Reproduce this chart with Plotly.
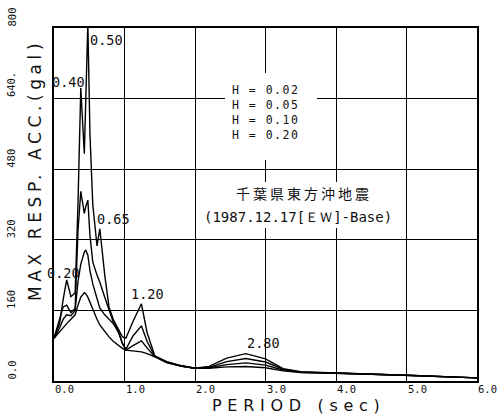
import plotly.graph_objects as go

# ---------------- data ----------------
period = [0.00, 0.08, 0.13, 0.18, 0.24, 0.30, 0.34, 0.38, 0.43, 0.45, 0.48, 0.51,
          0.55, 0.61, 0.65, 0.72, 0.78, 0.84, 0.88, 0.92, 0.97, 1.02, 1.12, 1.24,
          1.32, 1.43, 1.60, 1.80, 2.00, 2.20, 2.45, 2.72, 3.00, 3.25, 3.50, 4.00,
          5.00, 6.00]

acc_h002 = [97, 131, 185, 229, 191, 200, 400, 664, 515, 630, 810, 560,
            400, 306, 345, 240, 168, 140, 128, 118, 100, 97, 135, 175,
            110, 57, 44, 35, 29, 33, 52, 62, 50, 28, 21, 18,
            13, 7]
acc_h005 = [97, 140, 168, 172, 155, 165, 340, 430, 380, 395, 410, 330,
            270, 240, 224, 190, 160, 134, 122, 110, 85, 72, 102, 125,
            90, 56, 43, 34, 29, 31, 44, 51, 43, 27, 20, 18,
            13, 7]
acc_h010 = [97, 120, 140, 150, 148, 160, 225, 265, 292, 297, 285, 250,
            220, 185, 165, 150, 140, 130, 120, 108, 85, 70, 80, 91,
            75, 55, 42, 34, 29, 30, 37, 41, 36, 25, 20, 18,
            13, 7]
acc_h020 = [97, 112, 122, 130, 140, 150, 172, 190, 200, 198, 190, 178,
            162, 140, 127, 112, 100, 90, 85, 80, 74, 70, 68, 66,
            62, 55, 42, 34, 29, 29, 32, 33, 30, 23, 19, 18,
            13, 7]

damping_labels = ["H = 0.02", "H = 0.05", "H = 0.10", "H = 0.20"]

x_tick_vals = [0, 1, 2, 3, 4, 5, 6]
x_tick_text = ["0.0", "1.0", "2.0", "3.0", "4.0", "5.0", "6.0"]
y_tick_vals = [0, 160, 320, 480, 640, 800]
y_tick_text = ["0.0", "160", "320", "480", "640.", "800"]

peak_labels = ["0.20", "0.40", "0.50", "0.65", "1.20", "2.80"]

title_line1 = "千葉県東方沖地震"
title_line2 = "(1987.12.17[ＥＷ]-Base)"
x_title = "PERIOD (sec)"
y_title = "MAX RESP. ACC.(gal)"

# ---------------- layout helpers ----------------
W, H = 501, 415
L, R, T, B = 54, 477, 28, 381


def pxx(px):
    return (px - L) / (R - L)


def pxy(py):
    return (B - py) / (B - T)


def spaced(text, sp):
    return '<span style="letter-spacing:%gpx">%s</span>' % (sp, text)


MONO = "DejaVu Sans Mono"
SANS = "DejaVu Sans"
INK = "#111"

fig = go.Figure()
for name, vals in zip(damping_labels, [acc_h002, acc_h005, acc_h010, acc_h020]):
    fig.add_trace(go.Scatter(x=period, y=vals, mode="lines", name=name,
                             line=dict(color="black", width=1.4),
                             showlegend=False, hoverinfo="skip"))

ann = []
# x tick labels (left-aligned at gridline)
for v, t in zip(x_tick_vals, x_tick_text):
    ann.append(dict(x=v, xref="x", y=pxy(382), yref="paper", text=t,
                    xanchor="left", yanchor="top", showarrow=False, borderpad=0,
                    font=dict(family=MONO, size=10.5, color=INK)))
# y tick labels (rotated, starting at gridline going up)
for v, t in zip(y_tick_vals, y_tick_text):
    ann.append(dict(x=pxx(11), xref="paper", y=v, yref="y", text=t,
                    textangle=-90, xanchor="center", yanchor="bottom",
                    showarrow=False, borderpad=0,
                    font=dict(family=MONO, size=10.5, color=INK)))

# peak labels (pixel anchors: left edge, vertical centre)
peak_pos = [(45, 273), (50, 82), (88, 40), (95, 219), (129, 294), (245, 343)]
for t, (px, py) in zip(peak_labels, peak_pos):
    ann.append(dict(x=pxx(px), xref="paper", y=pxy(py), yref="paper", text=t,
                    xanchor="left", yanchor="middle", showarrow=False,
                    font=dict(family=MONO, size=13.5, color=INK)))

# legend text (one block)
legend_text = "<br>".join(spaced(t, 1.5) for t in damping_labels)
ann.append(dict(x=pxx(230), xref="paper", y=pxy(112), yref="paper",
                text=legend_text, align="left", xanchor="left", yanchor="middle",
                showarrow=False, font=dict(family=MONO, size=11.5, color=INK)))

# title block
ann.append(dict(x=pxx(304), xref="paper", y=pxy(193), yref="paper",
                text=spaced(title_line1, 3),
                xanchor="center", yanchor="middle", showarrow=False,
                font=dict(family="Noto Sans CJK JP", size=14, color=INK)))
ann.append(dict(x=pxx(298), xref="paper", y=pxy(217), yref="paper",
                text=title_line2, xanchor="center", yanchor="middle",
                showarrow=False,
                font=dict(family=MONO, size=14, color=INK)))

# axis titles
ann.append(dict(x=pxx(298), xref="paper", y=pxy(405), yref="paper",
                text=spaced(x_title, 5.7), borderpad=0,
                xanchor="center", yanchor="middle", showarrow=False,
                font=dict(family=SANS, size=16, color=INK)))
ann.append(dict(x=pxx(35), xref="paper", y=pxy(170), yref="paper",
                text=spaced(y_title, 4.6), borderpad=0,
                textangle=-90, xanchor="center", yanchor="middle", showarrow=False,
                font=dict(family=SANS, size=17, color=INK)))

# white masks where grid lines are interrupted by text
shapes = [
    dict(type="rect", xref="paper", yref="paper", x0=pxx(225), x1=pxx(317),
         y0=pxy(160), y1=pxy(73), fillcolor="white", line=dict(width=0),
         layer="above"),
    dict(type="rect", xref="paper", yref="paper", x0=pxx(201), x1=pxx(396),
         y0=pxy(228), y1=pxy(182), fillcolor="white", line=dict(width=0),
         layer="above"),
]

axis_common = dict(showgrid=True, gridcolor="black", gridwidth=1.4,
                   showline=True, linecolor="black", linewidth=2, mirror=True,
                   zeroline=False, ticks="", showticklabels=False, fixedrange=True)

fig.update_layout(
    width=W, height=H,
    margin=dict(l=L, r=W - R, t=T, b=H - B, pad=0),
    paper_bgcolor="white", plot_bgcolor="white",
    xaxis=dict(range=[0, 6], tickvals=x_tick_vals, **axis_common),
    yaxis=dict(range=[0, 800], tickvals=y_tick_vals, **axis_common),
    annotations=ann, shapes=shapes,
    showlegend=False,
)

fig.write_html("out.html")
